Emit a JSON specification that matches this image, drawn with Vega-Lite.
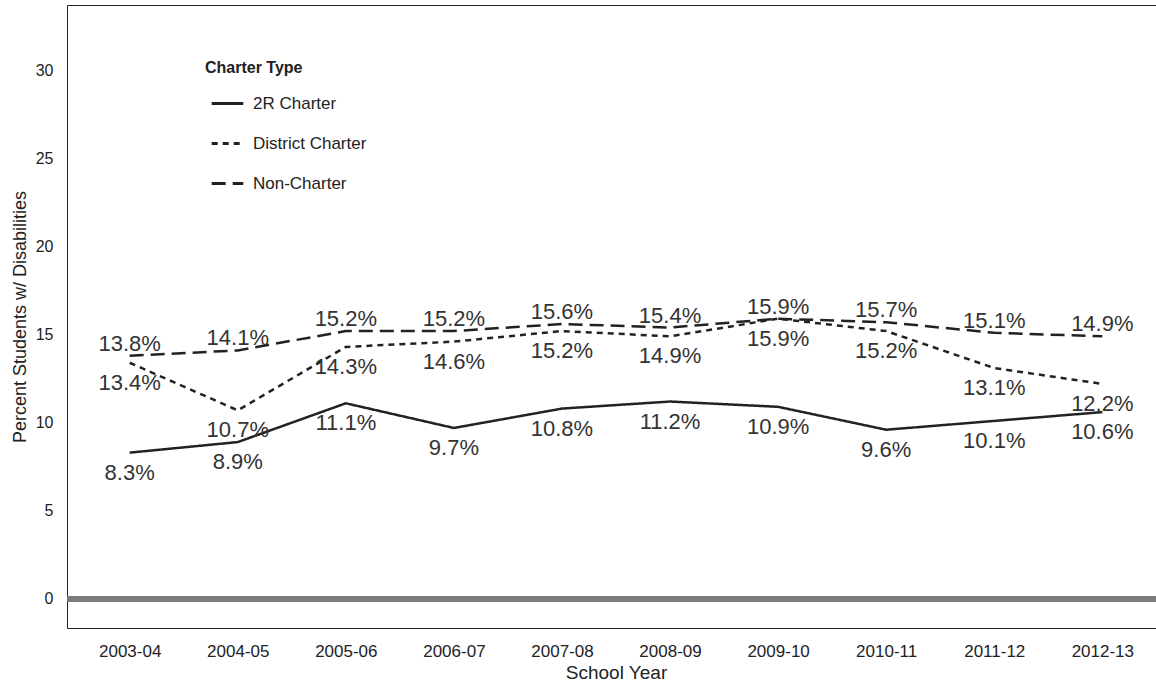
{
  "$schema": "https://vega.github.io/schema/vega-lite/v6.json",
  "autosize": "none",
  "width": 1098,
  "height": 623,
  "padding": {"left": 67, "top": 5, "right": 0, "bottom": 58},
  "background": "white",
  "config": {
    "font": "Liberation Sans",
    "view": {"stroke": "#222", "strokeWidth": 1}
  },
  "data": {
    "values": [
      {"year": "2003-04", "type": "2R Charter", "pct": 8.3},
      {"year": "2004-05", "type": "2R Charter", "pct": 8.9},
      {"year": "2005-06", "type": "2R Charter", "pct": 11.1},
      {"year": "2006-07", "type": "2R Charter", "pct": 9.7},
      {"year": "2007-08", "type": "2R Charter", "pct": 10.8},
      {"year": "2008-09", "type": "2R Charter", "pct": 11.2},
      {"year": "2009-10", "type": "2R Charter", "pct": 10.9},
      {"year": "2010-11", "type": "2R Charter", "pct": 9.6},
      {"year": "2011-12", "type": "2R Charter", "pct": 10.1},
      {"year": "2012-13", "type": "2R Charter", "pct": 10.6},
      {"year": "2003-04", "type": "District Charter", "pct": 13.4},
      {"year": "2004-05", "type": "District Charter", "pct": 10.7},
      {"year": "2005-06", "type": "District Charter", "pct": 14.3},
      {"year": "2006-07", "type": "District Charter", "pct": 14.6},
      {"year": "2007-08", "type": "District Charter", "pct": 15.2},
      {"year": "2008-09", "type": "District Charter", "pct": 14.9},
      {"year": "2009-10", "type": "District Charter", "pct": 15.9},
      {"year": "2010-11", "type": "District Charter", "pct": 15.2},
      {"year": "2011-12", "type": "District Charter", "pct": 13.1},
      {"year": "2012-13", "type": "District Charter", "pct": 12.2},
      {"year": "2003-04", "type": "Non-Charter", "pct": 13.8},
      {"year": "2004-05", "type": "Non-Charter", "pct": 14.1},
      {"year": "2005-06", "type": "Non-Charter", "pct": 15.2},
      {"year": "2006-07", "type": "Non-Charter", "pct": 15.2},
      {"year": "2007-08", "type": "Non-Charter", "pct": 15.6},
      {"year": "2008-09", "type": "Non-Charter", "pct": 15.4},
      {"year": "2009-10", "type": "Non-Charter", "pct": 15.9},
      {"year": "2010-11", "type": "Non-Charter", "pct": 15.7},
      {"year": "2011-12", "type": "Non-Charter", "pct": 15.1},
      {"year": "2012-13", "type": "Non-Charter", "pct": 14.9}
    ]
  },
  "transform": [
    {"calculate": "format(datum.pct, '.1f') + '%'", "as": "label"}
  ],
  "encoding": {
    "x": {
      "field": "year",
      "type": "ordinal",
      "scale": {"type": "point", "padding": 0.58},
      "axis": {
        "title": "School Year",
        "labelAngle": 0,
        "ticks": false,
        "domain": false,
        "labelFontSize": 17,
        "labelColor": "#222",
        "labelPadding": 15,
        "titleFontSize": 19,
        "titleFontWeight": "normal",
        "titleColor": "#222",
        "titlePadding": 4
      }
    },
    "y": {
      "field": "pct",
      "type": "quantitative",
      "scale": {"domain": [-1.65, 33.7], "nice": false, "zero": false},
      "axis": {
        "title": "Percent Students w/ Disabilities",
        "values": [0, 5, 10, 15, 20, 25, 30],
        "grid": false,
        "ticks": false,
        "domain": false,
        "labelFontSize": 16,
        "labelColor": "#222",
        "labelPadding": 14,
        "titleFontSize": 18,
        "titleFontWeight": "normal",
        "titleColor": "#222",
        "titlePadding": 6
      }
    }
  },
  "layer": [
    {
      "mark": {"type": "rule", "color": "#7a7a7a", "strokeWidth": 5},
      "encoding": {"y": {"datum": 0}, "x": {"value": 0}, "x2": {"value": 1098}}
    },
    {
      "mark": {"type": "line", "color": "#222", "strokeWidth": 2.5},
      "encoding": {
        "strokeDash": {
          "field": "type",
          "type": "nominal",
          "scale": {
            "domain": ["2R Charter", "District Charter", "Non-Charter"],
            "range": [[1, 0], [6, 5], [14, 7]]
          },
          "legend": {
            "title": "Charter Type",
            "orient": "none",
            "legendX": 138,
            "legendY": 55,
            "padding": 0,
            "titleFontSize": 16,
            "titleFontWeight": "bold",
            "titleColor": "#222",
            "titlePadding": 10,
            "labelFontSize": 17,
            "labelColor": "#222",
            "labelOffset": 8,
            "symbolType": "stroke",
            "symbolSize": 1000,
            "symbolStrokeWidth": 3,
            "symbolStrokeColor": "#222",
            "symbolOffset": 5,
            "rowPadding": 14
          }
        }
      }
    },
    {
      "transform": [{"filter": "datum.type === 'Non-Charter'"}],
      "mark": {"type": "text", "fontSize": 22, "color": "#333", "baseline": "middle", "dy": -12},
      "encoding": {"text": {"field": "label"}}
    },
    {
      "transform": [{"filter": "datum.type !== 'Non-Charter'"}],
      "mark": {"type": "text", "fontSize": 22, "color": "#333", "baseline": "middle", "dy": 20},
      "encoding": {"text": {"field": "label"}}
    }
  ]
}
